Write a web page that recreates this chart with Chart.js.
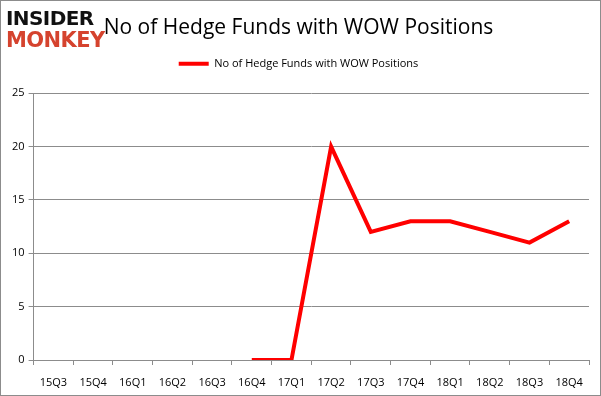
<!DOCTYPE html>
<html>
<head>
<meta charset="utf-8">
<script src="https://cdn.jsdelivr.net/npm/chart.js@4"></script>
<style>
  body { margin: 0; background: #fff; }
  #wrap { position: relative; width: 599px; height: 394px; border: 1px solid #8c8c8c; }
  .logo { position: absolute; left: 5px; font-family: "DejaVu Sans", sans-serif; font-weight: bold; font-size: 20px; letter-spacing: -0.6px; line-height: 1; }
  #logo1 { top: 7px; color: #111; }
  #logo2 { top: 29px; color: #d5432e; font-size: 21px; }
</style>
</head>
<body>
<div id="wrap">
  <canvas id="hedgeChart" width="599" height="394"></canvas>
  <div class="logo" id="logo1">INSIDER</div>
  <div class="logo" id="logo2">MONKEY</div>
</div>
<script>
const quarters = ['15Q3', '15Q4', '16Q1', '16Q2', '16Q3', '16Q4', '17Q1', '17Q2', '17Q3', '17Q4', '18Q1', '18Q2', '18Q3', '18Q4'];
const fundCounts = [null, null, null, null, null, 0, 0, 20, 12, 13, 13, 12, 11, 13];
const yTicks = [0, 5, 10, 15, 20, 25];
const seriesName = 'No of Hedge Funds with WOW Positions';

// extra room under the legend, like the original layout
const legendGap = {
    id: 'legendGap',
    beforeInit(chart) {
        const fitLegend = chart.legend.fit;
        chart.legend.fit = function() {
            fitLegend.call(this);
            this.height += 14;
        };
    }
};

const canvasContext = document.getElementById('hedgeChart').getContext('2d');
const baseFont = { family: '"Open Sans", "Liberation Sans", sans-serif', size: 11 };
const hedgeChart = new Chart(canvasContext, {
    type: 'line',
    data: {
        labels: quarters,
        datasets: [{ label: seriesName, data: fundCounts, borderColor: '#ff0000', backgroundColor: '#ff0000', borderWidth: 4, pointRadius: 0, tension: 0, spanGaps: false }]
    },
    options: {
        responsive: false,
        animation: false,
        layout: { padding: { left: 7, right: 11, top: 6, bottom: 0 } },
        scales: {
            x: {
                offset: true,
                afterFit: scale => { scale.height = 35; },
                grid: { display: true, drawOnChartArea: false, offset: true, color: '#8c8c8c', tickLength: 5 },
                border: { color: '#8c8c8c' },
                ticks: { color: '#000', font: baseFont, maxRotation: 0, padding: 11 }
            },
            y: {
                min: 0, max: 25,
                afterBuildTicks: axis => { axis.ticks = yTicks.map(v => ({ value: v })); },
                grid: { color: '#8c8c8c', tickLength: 5 },
                border: { color: '#8c8c8c' },
                ticks: { color: '#000', font: baseFont, padding: 4 }
            }
        },
        plugins: {
            title: { display: true, text: seriesName, color: '#000', font: { family: '"Open Sans", "Liberation Sans", sans-serif', size: 21, weight: 'normal' }, padding: { top: 8, bottom: 4 } },
            legend: {
                labels: { color: '#000', font: baseFont, usePointStyle: true, pointStyle: 'line', pointStyleWidth: 30, padding: 14 }
            },
            tooltip: { enabled: false }
        }
    },
    plugins: [legendGap]
});
</script>
</body>
</html>
